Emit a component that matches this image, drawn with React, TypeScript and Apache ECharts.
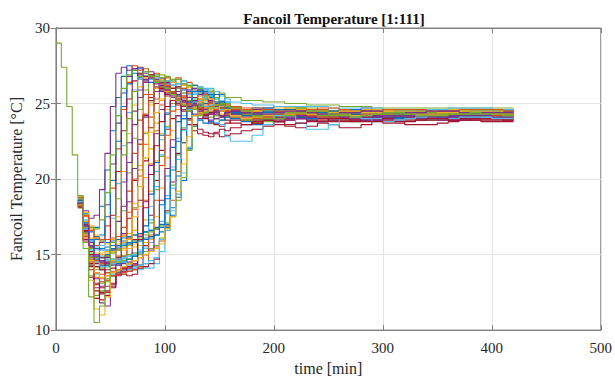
import React, { useEffect, useRef } from "react";
import * as echarts from "echarts";

// time axis of the samples (minutes)
const times: number[] = [
  0, 5, 10, 15, 20, 25, 30, 35, 40, 45, 50, 55, 60, 65, 70, 75, 80, 85, 90, 95,
  100, 105, 110, 115, 120, 125, 130, 135, 140, 145, 150, 155, 160,
  170, 180, 190, 200, 210, 220, 230, 240, 250, 260, 270, 280, 290, 300, 310,
  320, 330, 340, 350, 360, 370, 380, 390, 400, 410, 420,
];

// common start of every fancoil (t = 0..15 min); all curves coincide there,
// so only the top-most (last drawn) curve carries it
const startTemps: number[] = [29, 27.4, 24.8, 21.6];

// per-fancoil temperatures from t = 20 min onward (20..160 every 5 min, 170..420 every 10 min)
const fancoilTemps: number[][] = [
  [18.4, 17.2, 16.5, 16.8, 18.2, 20.6, 23.2, 25.4, 26.8, 27.5, 27.2, 27.3, 26.8, 26.9, 26.4, 26.1, 25.6, 25.7, 25.2, 24.9, 25.0, 24.7, 24.8, 24.6, 24.9, 24.7, 24.9, 24.6, 24.7,
   24.5, 24.4, 24.6, 24.5, 24.6, 24.7, 24.6, 24.5, 24.4, 24.5, 24.5, 24.6, 24.6, 24.5, 24.5, 24.4, 24.5, 24.5, 24.6, 24.6, 24.5, 24.5, 24.5, 24.6, 24.6, 24.5],
  [18.3, 16.1, 14.8, 14.2, 14.4, 14.3, 14.5, 14.9, 16.8, 19.2, 21.7, 23.9, 25.6, 26.7, 27.0, 26.6, 26.7, 26.2, 25.8, 25.9, 25.4, 25.1, 25.2, 24.8, 24.6, 24.4, 24.5, 24.3, 24.4,
   24.3, 24.1, 23.9, 24.0, 24.1, 24.3, 24.4, 24.4, 24.2, 24.1, 24.0, 24.1, 24.2, 24.3, 24.3, 24.2, 24.1, 24.1, 24.1, 24.2, 24.2, 24.3, 24.2, 24.2, 24.1, 24.1],
  [18.8, 17.6, 16.7, 16.1, 15.9, 15.8, 16.0, 15.9, 16.2, 16.4, 16.6, 18.2, 20.1, 22.0, 23.7, 25.2, 26.1, 26.4, 26.0, 26.2, 25.7, 25.8, 25.3, 25.4, 24.9, 25.0, 24.6, 24.7, 24.4,
   24.3, 24.1, 24.0, 24.1, 24.2, 24.3, 24.3, 24.2, 24.1, 24.0, 24.0, 24.1, 24.2, 24.2, 24.2, 24.1, 24.0, 24.0, 24.1, 24.1, 24.2, 24.2, 24.1, 24.1, 24.0, 24.0],
  [18.6, 17.9, 17.4, 17.6, 19.3, 21.7, 24.8, 27.0, 27.4, 27.2, 27.3, 26.9, 26.5, 26.6, 26.1, 25.8, 25.9, 25.4, 25.1, 25.2, 24.8, 24.9, 24.7, 25.0, 25.1, 24.9, 25.0, 24.8, 24.7,
   24.6, 24.6, 24.7, 24.8, 24.8, 24.7, 24.6, 24.5, 24.5, 24.6, 24.6, 24.7, 24.6, 24.6, 24.5, 24.5, 24.5, 24.6, 24.6, 24.6, 24.5, 24.5, 24.5, 24.6, 24.6, 24.6],
  [18.6, 16.8, 15.1, 13.8, 13.1, 13.3, 13.6, 13.9, 14.2, 15.8, 18.1, 20.6, 23.0, 25.1, 26.5, 26.9, 26.5, 26.6, 26.1, 25.7, 25.8, 25.3, 25.0, 25.1, 24.7, 24.8, 24.6, 24.7, 24.8,
   24.6, 24.5, 24.5, 24.6, 24.7, 24.7, 24.6, 24.5, 24.5, 24.5, 24.6, 24.6, 24.6, 24.5, 24.5, 24.5, 24.6, 24.6, 24.6, 24.5, 24.5, 24.5, 24.6, 24.6, 24.6, 24.6],
  [18.6, 17.1, 16.0, 15.3, 14.9, 14.7, 14.6, 14.6, 14.7, 14.9, 15.1, 15.3, 15.5, 15.8, 16.3, 17.2, 18.9, 20.8, 22.7, 24.2, 25.2, 25.7, 25.8, 25.5, 25.6, 25.1, 24.8, 24.4, 24.1,
   23.9, 23.9, 24.1, 24.3, 24.4, 24.4, 24.3, 24.2, 24.2, 24.3, 24.3, 24.4, 24.4, 24.3, 24.3, 24.3, 24.3, 24.4, 24.4, 24.3, 24.3, 24.3, 24.3, 24.3, 24.3, 24.3],
  [18.4, 16.6, 15.2, 14.4, 14.0, 13.8, 13.6, 13.6, 13.7, 13.6, 13.7, 14.3, 15.6, 17.6, 19.9, 21.9, 23.3, 24.0, 24.2, 24.0, 23.6, 23.2, 23.0, 22.9, 22.8, 23.0, 22.8, 22.9, 23.0,
   23.2, 23.3, 23.5, 23.6, 23.5, 23.4, 23.5, 23.7, 23.6, 23.4, 23.4, 23.6, 23.9, 23.9, 23.8, 23.6, 23.6, 23.6, 23.7, 23.8, 23.9, 23.9, 23.8, 23.8, 23.8, 23.8],
  [18.3, 16.5, 15.4, 14.9, 14.8, 15.0, 15.3, 15.6, 15.9, 16.1, 16.3, 16.4, 16.5, 16.6, 16.7, 16.8, 17.0, 17.6, 18.8, 19.9, 22.0, 23.5, 24.6, 25.3, 25.7, 25.8, 25.6, 25.1, 24.5,
   23.8, 23.6, 23.9, 24.2, 24.3, 24.1, 23.9, 23.8, 23.9, 24.1, 24.2, 24.2, 24.1, 24.0, 24.0, 24.1, 24.2, 24.2, 24.1, 24.1, 24.1, 24.1, 24.2, 24.2, 24.1, 24.1],
  [18.7, 17.5, 16.0, 15.6, 15.8, 16.9, 19.4, 22.0, 24.6, 26.4, 27.5, 27.2, 27.3, 26.8, 26.5, 26.6, 26.0, 25.7, 25.8, 25.2, 24.9, 25.0, 24.6, 24.7, 24.4, 24.6, 24.8, 24.9, 24.8,
   24.6, 24.4, 24.3, 24.3, 24.4, 24.5, 24.6, 24.6, 24.5, 24.4, 24.3, 24.3, 24.4, 24.5, 24.5, 24.5, 24.4, 24.4, 24.3, 24.4, 24.4, 24.5, 24.5, 24.4, 24.4, 24.4],
  [18.5, 16.9, 15.7, 15.1, 15.0, 15.2, 15.1, 15.3, 15.4, 15.6, 15.7, 15.9, 17.3, 19.2, 21.2, 23.0, 24.6, 25.7, 26.3, 26.0, 26.1, 25.6, 25.7, 25.2, 25.3, 24.8, 24.9, 24.5, 24.6,
   24.4, 24.2, 24.1, 24.1, 24.2, 24.3, 24.3, 24.3, 24.2, 24.1, 24.1, 24.1, 24.2, 24.2, 24.2, 24.2, 24.1, 24.1, 24.1, 24.2, 24.2, 24.2, 24.2, 24.2, 24.1, 24.1],
  [18.2, 16.4, 14.9, 14.6, 15.8, 18.3, 21.0, 23.7, 25.7, 26.8, 27.3, 27.4, 27.0, 27.1, 26.6, 26.2, 26.3, 25.8, 25.4, 25.5, 25.1, 24.8, 24.9, 24.5, 24.6, 24.3, 24.5, 24.4, 24.6,
   24.6, 24.4, 24.2, 24.2, 24.3, 24.4, 24.5, 24.5, 24.4, 24.3, 24.3, 24.3, 24.4, 24.4, 24.5, 24.4, 24.3, 24.3, 24.3, 24.4, 24.4, 24.4, 24.4, 24.3, 24.3, 24.3],
  [18.1, 15.8, 13.6, 12.3, 12.6, 13.2, 13.6, 15.4, 17.9, 20.4, 22.7, 24.6, 25.9, 26.6, 26.8, 26.4, 26.5, 26.0, 25.6, 25.7, 25.2, 24.8, 24.9, 24.4, 24.1, 24.2, 23.9, 24.1, 24.3,
   24.3, 24.0, 23.8, 23.8, 24.0, 24.2, 24.3, 24.3, 24.1, 23.9, 23.8, 23.9, 24.0, 24.1, 24.1, 24.0, 23.9, 23.9, 23.9, 24.0, 24.0, 24.1, 24.1, 24.0, 23.9, 23.9],
  [18.5, 16.7, 15.3, 14.5, 14.2, 14.2, 14.4, 14.3, 14.1, 14.0, 14.1, 14.0, 14.1, 14.1, 14.4, 15.2, 16.6, 17.9, 19.0, 20.4, 22.1, 23.6, 24.8, 25.6, 26.0, 25.8, 25.5, 25.1, 24.7,
   24.3, 24.1, 24.0, 24.1, 24.3, 24.4, 24.4, 24.3, 24.2, 24.2, 24.3, 24.3, 24.4, 24.4, 24.3, 24.2, 24.2, 24.3, 24.3, 24.4, 24.4, 24.3, 24.3, 24.3, 24.3, 24.3],
  [18.2, 16.0, 14.0, 12.6, 12.0, 12.3, 12.8, 13.7, 14.9, 17.4, 19.9, 22.3, 24.2, 25.4, 26.0, 26.3, 25.9, 26.0, 25.5, 25.1, 24.7, 24.9, 24.3, 24.0, 23.7, 23.6, 23.5, 23.7, 23.9,
   23.9, 23.7, 23.6, 23.8, 24.0, 24.1, 24.1, 24.0, 23.9, 23.8, 23.8, 23.9, 24.0, 24.1, 24.1, 24.0, 24.0, 23.9, 23.9, 24.0, 24.0, 24.0, 24.0, 24.0, 23.9, 23.9],
  [18.5, 16.8, 15.9, 16.0, 16.3, 17.5, 19.9, 22.5, 24.8, 26.3, 27.0, 26.7, 26.8, 26.4, 26.5, 26.0, 25.6, 25.8, 25.3, 24.9, 25.0, 24.7, 24.9, 25.0, 24.8, 24.9, 24.6, 24.7, 24.5,
   24.6, 24.7, 24.7, 24.6, 24.4, 24.3, 24.3, 24.4, 24.5, 24.6, 24.6, 24.5, 24.4, 24.4, 24.4, 24.5, 24.5, 24.5, 24.4, 24.4, 24.4, 24.5, 24.5, 24.5, 24.4, 24.4],
  [18.3, 16.2, 14.6, 13.8, 13.7, 13.8, 13.9, 14.0, 14.1, 14.2, 14.4, 16.3, 18.6, 21.0, 23.2, 24.9, 25.9, 26.4, 26.7, 26.3, 26.4, 25.9, 25.7, 25.8, 25.2, 25.0, 25.1, 24.7, 24.5,
   24.3, 24.1, 24.1, 24.2, 24.4, 24.5, 24.5, 24.4, 24.3, 24.3, 24.3, 24.4, 24.4, 24.4, 24.3, 24.3, 24.3, 24.4, 24.4, 24.4, 24.3, 24.3, 24.3, 24.4, 24.4, 24.4],
  [18.6, 17.0, 15.4, 14.5, 14.3, 14.3, 14.4, 14.5, 14.6, 16.2, 18.4, 20.9, 23.1, 24.9, 26.0, 26.6, 26.2, 26.4, 25.8, 25.4, 25.5, 25.0, 24.7, 24.8, 24.4, 24.5, 24.3, 24.5, 24.6,
   24.6, 24.5, 24.5, 24.6, 24.7, 24.7, 24.6, 24.5, 24.5, 24.5, 24.6, 24.6, 24.6, 24.5, 24.5, 24.5, 24.6, 24.6, 24.6, 24.5, 24.5, 24.5, 24.6, 24.6, 24.6, 24.6],
  [18.2, 16.2, 14.3, 12.8, 11.8, 11.6, 12.9, 15.3, 18.2, 21.1, 23.6, 25.4, 26.4, 26.8, 26.6, 26.7, 26.1, 25.7, 25.8, 25.2, 24.9, 24.6, 24.7, 24.3, 24.4, 24.5, 24.6, 24.7, 24.6,
   24.4, 24.2, 24.1, 24.1, 24.2, 24.3, 24.4, 24.4, 24.3, 24.2, 24.1, 24.1, 24.2, 24.3, 24.3, 24.3, 24.2, 24.2, 24.2, 24.2, 24.3, 24.3, 24.3, 24.2, 24.2, 24.2],
  [18.4, 16.8, 15.6, 14.8, 14.6, 14.6, 14.7, 14.8, 14.9, 15.0, 15.1, 15.2, 15.4, 17.1, 19.3, 21.5, 23.5, 25.0, 26.0, 26.5, 26.1, 26.2, 25.6, 25.3, 25.4, 24.9, 24.6, 24.7, 24.3,
   24.2, 24.1, 24.2, 24.4, 24.6, 24.7, 24.7, 24.6, 24.5, 24.4, 24.4, 24.5, 24.5, 24.6, 24.6, 24.5, 24.5, 24.4, 24.4, 24.5, 24.5, 24.6, 24.6, 24.5, 24.5, 24.5],
  [18.3, 16.4, 14.8, 13.7, 13.2, 13.3, 13.7, 13.8, 13.9, 14.0, 14.1, 14.3, 16.0, 18.2, 20.5, 22.6, 24.4, 25.6, 26.3, 26.5, 26.2, 25.9, 26.0, 25.4, 25.0, 25.1, 24.7, 24.4, 24.5,
   24.2, 24.0, 23.9, 24.0, 24.1, 24.2, 24.3, 24.3, 24.2, 24.1, 24.0, 24.0, 24.0, 24.1, 24.2, 24.2, 24.2, 24.1, 24.1, 24.0, 24.0, 24.0, 24.1, 24.1, 24.1, 24.1],
  [18.1, 15.9, 14.2, 13.0, 12.4, 12.5, 13.1, 13.7, 13.9, 14.1, 16.0, 18.6, 21.2, 23.4, 25.0, 25.9, 26.4, 26.0, 26.1, 25.5, 25.1, 25.2, 24.6, 24.3, 24.4, 24.0, 24.1, 24.3, 24.5,
   24.4, 24.2, 24.0, 23.9, 23.9, 24.0, 24.1, 24.2, 24.2, 24.1, 24.0, 23.9, 23.9, 24.0, 24.1, 24.1, 24.1, 24.0, 24.0, 23.9, 23.9, 24.0, 24.0, 24.0, 24.0, 24.0],
  [18.8, 17.7, 16.8, 16.2, 15.9, 15.8, 15.9, 16.0, 16.1, 16.2, 16.3, 16.4, 16.5, 16.6, 16.8, 18.3, 20.2, 22.1, 23.8, 25.0, 25.8, 26.2, 25.8, 25.9, 25.4, 25.0, 25.1, 24.6, 24.4,
   24.2, 24.1, 24.3, 24.5, 24.6, 24.5, 24.4, 24.3, 24.4, 24.5, 24.5, 24.4, 24.3, 24.3, 24.4, 24.5, 24.5, 24.4, 24.4, 24.4, 24.4, 24.5, 24.5, 24.4, 24.4, 24.4],
  [18.5, 16.9, 15.5, 14.6, 14.5, 14.5, 14.6, 14.7, 14.8, 16.1, 18.0, 20.2, 22.3, 24.1, 25.3, 26.0, 25.7, 25.8, 25.3, 24.9, 25.0, 24.6, 24.5, 24.7, 24.8, 24.9, 24.8, 24.9, 24.7,
   24.6, 24.5, 24.4, 24.4, 24.5, 24.6, 24.6, 24.6, 24.5, 24.5, 24.4, 24.5, 24.5, 24.6, 24.6, 24.6, 24.5, 24.5, 24.5, 24.5, 24.6, 24.6, 24.6, 24.5, 24.5, 24.5],
  [18.6, 17.2, 16.1, 15.4, 15.1, 15.1, 15.2, 15.3, 15.3, 15.4, 15.5, 15.6, 15.8, 16.0, 17.5, 19.4, 21.4, 23.2, 24.6, 25.5, 26.1, 25.8, 25.9, 25.4, 25.0, 25.1, 24.7, 24.5, 24.6,
   24.4, 24.2, 24.1, 24.1, 24.2, 24.3, 24.4, 24.4, 24.3, 24.2, 24.2, 24.2, 24.3, 24.3, 24.3, 24.3, 24.2, 24.2, 24.2, 24.3, 24.3, 24.3, 24.3, 24.3, 24.2, 24.2],
  [18.2, 16.3, 14.6, 13.4, 12.9, 12.9, 13.6, 13.8, 14.0, 14.2, 14.4, 16.2, 18.5, 20.9, 23.0, 24.6, 25.7, 26.2, 25.8, 25.9, 25.4, 25.0, 25.1, 24.6, 24.3, 24.4, 24.1, 24.2, 24.4,
   24.3, 24.1, 23.9, 23.8, 23.9, 24.0, 24.1, 24.2, 24.1, 24.0, 23.9, 23.9, 23.9, 24.0, 24.1, 24.1, 24.0, 24.0, 23.9, 23.9, 23.9, 24.0, 24.0, 24.0, 24.0, 24.0],
  [18.3, 16.4, 14.8, 14.0, 14.1, 14.2, 14.4, 14.5, 14.6, 14.7, 14.9, 15.0, 15.2, 15.4, 15.6, 16.1, 17.8, 19.6, 21.6, 23.4, 24.7, 25.6, 26.0, 25.7, 25.8, 25.3, 24.9, 25.0, 24.6,
   24.3, 24.1, 24.2, 24.4, 24.5, 24.5, 24.4, 24.3, 24.3, 24.4, 24.4, 24.5, 24.5, 24.4, 24.4, 24.4, 24.4, 24.5, 24.5, 24.4, 24.4, 24.4, 24.4, 24.4, 24.4, 24.4],
  [18.7, 17.3, 15.9, 15.0, 14.6, 14.6, 14.7, 14.7, 14.8, 14.9, 15.0, 15.2, 15.4, 17.3, 19.5, 21.6, 23.4, 24.8, 25.6, 25.9, 25.6, 25.7, 25.2, 24.8, 24.9, 24.5, 24.6, 24.3, 24.4,
   24.5, 24.4, 24.3, 24.3, 24.4, 24.5, 24.5, 24.5, 24.4, 24.3, 24.3, 24.3, 24.4, 24.4, 24.5, 24.5, 24.4, 24.4, 24.3, 24.4, 24.4, 24.4, 24.5, 24.5, 24.4, 24.4],
  [18.4, 16.2, 14.4, 13.1, 12.5, 12.6, 13.0, 13.7, 13.8, 13.9, 14.0, 14.1, 14.2, 14.4, 14.7, 16.0, 17.9, 19.8, 21.7, 23.3, 24.6, 25.4, 25.9, 25.6, 25.1, 24.6, 24.2, 23.9, 23.7,
   23.6, 23.7, 23.9, 24.1, 24.2, 24.1, 23.9, 23.8, 23.8, 23.9, 24.0, 24.1, 24.1, 24.0, 23.9, 23.9, 23.9, 24.0, 24.0, 24.0, 24.0, 24.0, 24.0, 24.0, 24.0, 24.0],
  [18.4, 16.9, 15.5, 14.7, 14.3, 14.3, 14.4, 14.4, 14.5, 14.7, 14.9, 15.1, 16.9, 19.0, 21.1, 22.9, 24.3, 25.2, 25.5, 25.1, 24.6, 24.2, 23.9, 23.7, 23.8, 23.7, 23.9, 24.1, 24.0,
   24.2, 24.3, 24.4, 24.3, 24.2, 24.1, 24.0, 24.1, 24.2, 24.3, 24.3, 24.2, 24.1, 24.1, 24.1, 24.2, 24.2, 24.2, 24.1, 24.1, 24.1, 24.1, 24.2, 24.2, 24.2, 24.2],
  [18.2, 16.3, 14.7, 13.8, 13.4, 13.6, 13.8, 14.0, 14.2, 14.4, 14.6, 14.8, 15.0, 15.2, 15.5, 15.9, 16.9, 18.6, 20.5, 22.4, 23.9, 24.9, 25.5, 25.6, 25.3, 24.9, 25.0, 24.5, 24.3,
   24.1, 24.0, 24.1, 24.3, 24.4, 24.4, 24.3, 24.2, 24.2, 24.3, 24.3, 24.4, 24.4, 24.3, 24.3, 24.3, 24.3, 24.3, 24.4, 24.4, 24.3, 24.3, 24.3, 24.3, 24.3, 24.3],
  [18.8, 17.8, 16.9, 16.3, 15.9, 15.7, 15.6, 15.7, 15.8, 16.0, 17.5, 19.5, 21.4, 23.1, 24.4, 25.3, 25.6, 25.2, 25.4, 24.9, 24.6, 24.7, 24.4, 24.5, 24.7, 24.8, 24.7, 24.8, 24.6,
   24.5, 24.5, 24.6, 24.7, 24.7, 24.6, 24.5, 24.5, 24.5, 24.6, 24.6, 24.6, 24.6, 24.5, 24.5, 24.5, 24.6, 24.6, 24.6, 24.6, 24.5, 24.5, 24.5, 24.6, 24.6, 24.6],
  [18.4, 16.7, 15.5, 14.8, 14.5, 14.5, 14.6, 14.8, 16.4, 18.5, 20.7, 22.6, 24.1, 25.2, 25.8, 25.9, 25.5, 25.6, 25.0, 24.6, 24.7, 24.3, 24.0, 24.1, 23.9, 24.0, 24.2, 24.4, 24.5,
   24.5, 24.4, 24.2, 24.1, 24.0, 24.0, 24.1, 24.2, 24.3, 24.3, 24.2, 24.1, 24.1, 24.1, 24.2, 24.2, 24.3, 24.2, 24.2, 24.1, 24.1, 24.1, 24.2, 24.2, 24.2, 24.2],
  [18.7, 17.6, 16.8, 16.7, 17.3, 19.1, 21.6, 24.2, 26.0, 26.9, 27.2, 27.0, 27.1, 26.8, 26.9, 26.7, 26.8, 26.5, 26.6, 26.3, 26.2, 26.0, 26.1, 25.8, 25.9, 25.6, 25.7, 25.4, 25.4,
   25.2, 25.2, 25.1, 25.1, 25.0, 25.0, 24.9, 24.9, 24.9, 24.8, 24.8, 24.8, 24.7, 24.7, 24.7, 24.7, 24.7, 24.7, 24.7, 24.7, 24.7, 24.7, 24.7, 24.7, 24.7, 24.7],
  [18.5, 17.0, 15.9, 15.5, 15.6, 16.0, 17.4, 19.7, 22.2, 24.4, 25.9, 26.6, 26.8, 26.6, 26.7, 26.4, 26.5, 26.2, 26.3, 25.9, 25.9, 25.6, 25.7, 25.4, 25.5, 25.3, 25.2, 25.3, 25.1,
   25.0, 24.9, 24.9, 24.8, 24.8, 24.8, 24.8, 24.8, 24.7, 24.7, 24.7, 24.7, 24.7, 24.6, 24.6, 24.6, 24.6, 24.6, 24.6, 24.7, 24.7, 24.7, 24.7, 24.6, 24.6, 24.6],
  [18.4, 16.0, 13.5, 12.1, 12.8, 14.9, 17.6, 20.5, 23.2, 25.3, 26.5, 27.0, 26.8, 26.9, 26.4, 26.0, 25.6, 25.7, 25.2, 24.8, 24.5, 24.6, 24.3, 24.2, 24.4, 24.5, 24.7, 24.6, 24.7,
   24.5, 24.3, 24.2, 24.2, 24.3, 24.4, 24.5, 24.5, 24.4, 24.3, 24.2, 24.2, 24.3, 24.4, 24.4, 24.4, 24.3, 24.3, 24.3, 24.3, 24.4, 24.4, 24.4, 24.3, 24.3, 24.3],
  [18.5, 16.8, 15.8, 15.4, 15.4, 15.5, 15.6, 15.6, 15.7, 15.8, 15.9, 16.0, 16.1, 16.2, 16.3, 16.5, 16.8, 18.1, 20.2, 22.4, 24.0, 25.1, 25.6, 25.8, 25.5, 25.6, 25.1, 24.7, 24.3,
   24.0, 23.9, 24.0, 24.2, 24.4, 24.5, 24.5, 24.4, 24.3, 24.3, 24.3, 24.4, 24.4, 24.4, 24.3, 24.3, 24.3, 24.4, 24.4, 24.4, 24.3, 24.3, 24.3, 24.4, 24.4, 24.4],
  [18.3, 16.2, 14.5, 13.5, 13.2, 13.3, 13.6, 13.7, 13.8, 13.9, 14.0, 14.2, 14.4, 16.3, 18.6, 20.9, 22.9, 24.5, 25.6, 26.0, 25.7, 25.8, 25.3, 24.9, 25.0, 24.5, 24.2, 24.3, 24.1,
   24.0, 23.9, 24.0, 24.2, 24.3, 24.3, 24.2, 24.1, 24.1, 24.2, 24.2, 24.3, 24.3, 24.2, 24.2, 24.2, 24.2, 24.2, 24.3, 24.3, 24.2, 24.2, 24.2, 24.2, 24.2, 24.2],
  [18.9, 16.1, 13.3, 11.4, 11.0, 12.2, 14.6, 17.5, 20.5, 23.0, 24.9, 26.1, 26.7, 26.8, 26.5, 26.4, 25.8, 25.5, 25.6, 25.0, 24.6, 24.7, 24.3, 24.4, 24.6, 24.7, 24.8, 24.8, 24.7,
   24.5, 24.3, 24.2, 24.2, 24.3, 24.4, 24.5, 24.5, 24.4, 24.3, 24.2, 24.2, 24.3, 24.4, 24.4, 24.4, 24.3, 24.3, 24.3, 24.3, 24.4, 24.4, 24.4, 24.3, 24.3, 24.3],
  [18.6, 17.0, 15.8, 15.0, 14.6, 14.4, 14.3, 14.3, 14.4, 14.5, 14.6, 14.8, 15.0, 15.3, 16.7, 18.6, 20.7, 22.6, 24.2, 25.3, 25.9, 26.0, 25.6, 25.7, 25.2, 24.8, 24.9, 24.5, 24.3,
   24.4, 24.2, 24.0, 24.0, 24.1, 24.2, 24.3, 24.3, 24.2, 24.1, 24.0, 24.0, 24.1, 24.2, 24.2, 24.2, 24.1, 24.1, 24.1, 24.1, 24.2, 24.2, 24.2, 24.1, 24.1, 24.1],
  [18.5, 16.8, 15.4, 14.8, 14.8, 14.9, 15.1, 15.3, 15.5, 15.7, 15.9, 16.1, 16.3, 16.5, 16.7, 16.9, 17.1, 17.5, 18.6, 20.1, 21.9, 23.6, 24.8, 25.5, 25.6, 25.4, 25.0, 24.6, 24.2,
   23.9, 23.8, 24.0, 24.2, 24.4, 24.4, 24.3, 24.2, 24.2, 24.3, 24.4, 24.4, 24.3, 24.3, 24.3, 24.3, 24.4, 24.4, 24.3, 24.3, 24.3, 24.3, 24.4, 24.4, 24.3, 24.3],
  [18.5, 16.7, 15.3, 14.5, 14.2, 14.2, 14.4, 14.6, 14.5, 14.3, 14.2, 14.3, 14.4, 14.6, 14.8, 16.0, 17.7, 19.4, 21.3, 23.2, 24.6, 25.6, 26.1, 26.0, 25.5, 24.6, 23.6, 22.8, 22.5,
   22.5, 22.9, 23.6, 24.2, 24.2, 23.7, 23.3, 23.3, 23.6, 24.0, 24.1, 24.0, 23.8, 23.8, 23.9, 24.0, 24.1, 24.0, 24.0, 24.0, 24.1, 24.1, 24.1, 24.0, 24.0, 24.0],
  [18.3, 16.5, 15.0, 14.2, 14.0, 14.0, 14.1, 14.0, 14.1, 14.2, 14.3, 16.0, 18.1, 20.3, 22.2, 23.8, 24.8, 25.2, 24.9, 24.5, 24.0, 23.6, 23.3, 23.1, 23.0, 23.1, 23.3, 23.2, 23.4,
   23.6, 23.8, 23.9, 23.8, 23.6, 23.7, 23.8, 23.9, 24.0, 24.0, 23.9, 23.8, 23.8, 23.7, 23.7, 23.8, 23.9, 24.0, 24.0, 23.9, 23.9, 23.9, 23.9, 23.9, 23.9, 23.9],
  [18.6, 17.1, 16.0, 15.4, 15.3, 15.3, 15.4, 15.5, 15.6, 15.7, 15.8, 15.9, 16.0, 16.1, 16.3, 17.0, 18.7, 20.6, 22.5, 24.0, 25.1, 25.8, 25.9, 25.5, 25.6, 25.1, 24.7, 24.8, 24.4,
   24.2, 24.3, 24.5, 24.6, 24.6, 24.5, 24.4, 24.4, 24.5, 24.6, 24.6, 24.5, 24.4, 24.4, 24.5, 24.5, 24.5, 24.5, 24.5, 24.4, 24.4, 24.5, 24.5, 24.5, 24.5, 24.5],
  [18.8, 17.6, 16.6, 16.1, 16.0, 16.0, 16.1, 16.2, 16.3, 17.8, 20.0, 22.3, 24.3, 25.6, 26.4, 26.1, 26.2, 25.7, 25.3, 25.4, 24.9, 24.6, 24.7, 24.4, 24.5, 24.6, 24.7, 24.5, 24.6,
   24.7, 24.7, 24.6, 24.5, 24.5, 24.5, 24.6, 24.7, 24.7, 24.6, 24.5, 24.5, 24.5, 24.6, 24.6, 24.6, 24.6, 24.5, 24.5, 24.5, 24.6, 24.6, 24.6, 24.6, 24.5, 24.5],
  [18.3, 16.3, 14.6, 13.8, 13.5, 13.6, 13.8, 14.0, 14.2, 14.4, 14.6, 14.8, 15.0, 15.2, 15.4, 15.7, 16.7, 17.5, 19.2, 21.0, 22.8, 24.2, 25.1, 25.5, 25.3, 24.9, 24.5, 24.6, 24.2,
   24.0, 24.1, 24.3, 24.4, 24.5, 24.4, 24.3, 24.3, 24.4, 24.5, 24.5, 24.4, 24.4, 24.4, 24.5, 24.5, 24.5, 24.5, 24.4, 24.4, 24.4, 24.5, 24.5, 24.5, 24.4, 24.4],
  [18.4, 16.9, 15.6, 14.9, 14.8, 14.8, 15.3, 17.2, 19.8, 22.4, 24.5, 25.9, 26.6, 26.7, 26.3, 26.4, 25.9, 25.5, 25.6, 25.1, 24.8, 24.9, 24.5, 24.6, 24.3, 24.5, 24.2, 24.4, 24.5,
   24.4, 24.3, 24.3, 24.4, 24.5, 24.5, 24.4, 24.3, 24.3, 24.4, 24.4, 24.5, 24.5, 24.4, 24.4, 24.4, 24.4, 24.5, 24.5, 24.5, 24.4, 24.4, 24.4, 24.4, 24.4, 24.4],
  [18.9, 15.4, 12.2, 10.5, 11.6, 13.4, 15.8, 18.7, 21.6, 24.0, 25.8, 26.8, 27.1, 26.8, 26.4, 26.5, 26.0, 25.6, 25.2, 24.9, 24.5, 24.6, 24.2, 24.4, 24.7, 24.9, 24.9, 24.8, 24.7,
   24.5, 24.2, 24.0, 24.0, 24.2, 24.4, 24.5, 24.5, 24.3, 24.2, 24.1, 24.2, 24.3, 24.4, 24.4, 24.3, 24.2, 24.2, 24.2, 24.3, 24.3, 24.4, 24.3, 24.3, 24.2, 24.2],
];

// MATLAB default line colour order
const palette = ["#0072BD", "#D95319", "#EDB120", "#7E2F8E", "#77AC30", "#4DBEEE", "#A2142F"];

const xTicks = [0, 100, 200, 300, 400, 500];
const yTicks = [10, 15, 20, 25, 30];

const FONT = "Liberation Serif";
const AXIS_GRAY = "#808080";

export default function App() {
  const ref = useRef<HTMLDivElement>(null);

  useEffect(() => {
    if (!ref.current) return;
    const chart = echarts.init(ref.current, undefined, { renderer: "svg" });

    const last = fancoilTemps.length - 1;
    const series = fancoilTemps.map((vals, i) => {
      // the shared start is drawn once, by the top-most curve
      const full = i === last ? [...startTemps, ...vals] : vals;
      const offset = times.length - 4 - vals.length === 0 && i !== last ? 4 : 0;
      const data: [number, number][] = [];
      full.forEach((v, j) => {
        const t = times[j + offset];
        if (t !== undefined) data.push([t, v]);
      });
      const c = palette[i % palette.length];
      return {
        type: "line" as const,
        name: "fancoil " + (i + 1),
        step: "end" as const,
        showSymbol: false,
        symbol: "none",
        data,
        lineStyle: { width: 1.1, color: c },
        itemStyle: { color: c },
        emphasis: { disabled: true },
        silent: true,
      };
    });

    const tickStyle = { show: true, inside: true, length: 5, lineStyle: { color: AXIS_GRAY } };

    chart.setOption({
      animation: false,
      backgroundColor: "#ffffff",
      textStyle: { fontFamily: FONT },
      title: {
        text: "Fancoil Temperature [1:111]",
        left: 329,
        top: 6,
        textAlign: "center",
        textStyle: { fontFamily: FONT, fontSize: 15, fontWeight: "bold", color: "#111" },
      },
      grid: {
        left: 54, right: 11, top: 28, bottom: 46, containLabel: false,
        show: true, borderColor: AXIS_GRAY, borderWidth: 1, backgroundColor: "transparent",
      },
      xAxis: [
        {
          type: "value",
          min: xTicks[0],
          max: xTicks[xTicks.length - 1],
          interval: 100,
          name: "time [min]",
          nameLocation: "middle",
          nameGap: 27,
          nameTextStyle: { fontFamily: FONT, fontSize: 16, color: "#262626" },
          axisLine: { show: true, lineStyle: { color: AXIS_GRAY, width: 1 } },
          axisTick: tickStyle,
          axisLabel: { fontFamily: FONT, fontSize: 15, color: "#262626", margin: 10 },
          splitLine: { show: true, lineStyle: { color: "#e3e3e3", width: 1 } },
        },
        {
          type: "value",
          position: "top",
          min: xTicks[0],
          max: xTicks[xTicks.length - 1],
          interval: 100,
          axisLine: { show: true, lineStyle: { color: AXIS_GRAY, width: 1 } },
          axisTick: tickStyle,
          axisLabel: { show: false },
          splitLine: { show: false },
        },
      ],
      yAxis: [
        {
          type: "value",
          min: yTicks[0],
          max: yTicks[yTicks.length - 1],
          interval: 5,
          name: "Fancoil Temperature [°C]",
          nameLocation: "middle",
          nameGap: 27,
          nameTextStyle: { fontFamily: FONT, fontSize: 16, color: "#262626" },
          axisLine: { show: true, lineStyle: { color: AXIS_GRAY, width: 1 } },
          axisTick: tickStyle,
          axisLabel: { fontFamily: FONT, fontSize: 15, color: "#262626", margin: 6 },
          splitLine: { show: true, lineStyle: { color: "#e3e3e3", width: 1 } },
        },
        {
          type: "value",
          position: "right",
          min: yTicks[0],
          max: yTicks[yTicks.length - 1],
          interval: 5,
          axisLine: { show: true, lineStyle: { color: AXIS_GRAY, width: 1 } },
          axisTick: tickStyle,
          axisLabel: { show: false },
          splitLine: { show: false },
        },
      ],
      series,
    });

    return () => chart.dispose();
  }, []);

  return (
    <div
      ref={ref}
      style={{ position: "fixed", left: 0, top: 0, width: 615, height: 381, background: "#fff" }}
    />
  );
}
